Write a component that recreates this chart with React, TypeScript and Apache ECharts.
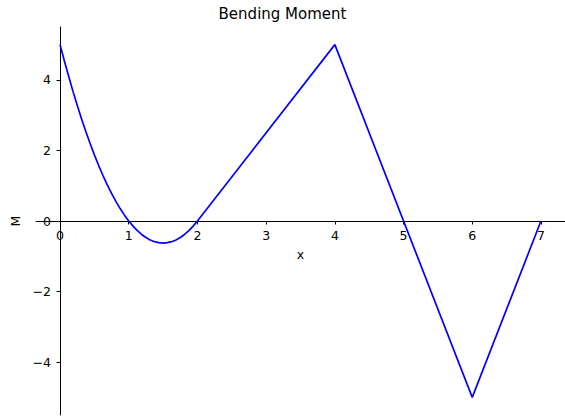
import React, { useEffect, useRef } from "react";
import * as echarts from "echarts";

// Bending moment along the beam: parabolic span 0–2, then straight segments.
const xValues = [
  0, 0.0625, 0.125, 0.1875, 0.25, 0.3125, 0.375, 0.4375, 0.5, 0.5625, 0.625,
  0.6875, 0.75, 0.8125, 0.875, 0.9375, 1, 1.0625, 1.125, 1.1875, 1.25, 1.3125,
  1.375, 1.4375, 1.5, 1.5625, 1.625, 1.6875, 1.75, 1.8125, 1.875, 1.9375, 2, 4,
  6, 7,
];
const mValues = [
  5, 4.541, 4.102, 3.682, 3.281, 2.9, 2.539, 2.197, 1.875, 1.572, 1.289, 1.025,
  0.781, 0.557, 0.352, 0.166, 0, -0.146, -0.273, -0.381, -0.469, -0.537, -0.586,
  -0.615, -0.625, -0.615, -0.586, -0.537, -0.469, -0.381, -0.273, -0.146, 0, 5,
  -5, 0,
];
const xTicks = [0, 1, 2, 3, 4, 5, 6, 7];
const yTicks = [-4, -2, 0, 2, 4];

const FONT = "DejaVu Sans";
const fmt = (v: number) => String(v).replace("-", "\u2212");

// plot box
const W = 565;
const H = 417;
const GL = 36;
const GR = 0;
const GT = 27;
const GB = 2;
const X_MIN = -0.35;
const X_MAX = 7.35;
const Y_MIN = -5.5;
const Y_MAX = 5.5;
// spines pass through the origin
const yAxisShift = ((0 - X_MIN) / (X_MAX - X_MIN)) * (W - GL - GR);
const xAxisShift = ((0 - Y_MIN) / (Y_MAX - Y_MIN)) * (H - GT - GB);

export default function App() {
  const ref = useRef<HTMLDivElement>(null);
  useEffect(() => {
    if (!ref.current) return;
    const chart = echarts.init(ref.current, null, { renderer: "svg" });
    chart.setOption({
      animation: false,
      backgroundColor: "#ffffff",
      title: {
        text: "Bending Moment",
        left: "center",
        top: 1.5,
        textStyle: { fontFamily: FONT, fontSize: 15, fontWeight: "normal", color: "#000" },
      },
      grid: { left: GL, right: GR, top: GT, bottom: GB, containLabel: false, outerBoundsMode: "none" },
      xAxis: {
        type: "value",
        min: X_MIN,
        max: X_MAX,
        offset: -xAxisShift,
        name: "x",
        nameLocation: "middle",
        nameGap: 27,
        nameTextStyle: { fontFamily: FONT, fontSize: 12.5, color: "#000" },
        axisLine: { onZero: false, lineStyle: { color: "#000", width: 1 } },
        axisTick: { show: true, customValues: xTicks, length: 3.5, lineStyle: { color: "#000" } },
        axisLabel: {
          customValues: xTicks,
          formatter: fmt,
          fontFamily: FONT,
          fontSize: 12.5,
          color: "#000",
          margin: 8,
        },
        splitLine: { show: false },
      },
      yAxis: {
        type: "value",
        min: Y_MIN,
        max: Y_MAX,
        offset: -yAxisShift,
        name: "M",
        nameLocation: "middle",
        nameGap: 35,
        nameRotate: 90,
        nameTextStyle: { fontFamily: FONT, fontSize: 12.5, color: "#000" },
        axisLine: { onZero: false, lineStyle: { color: "#000", width: 1 } },
        axisTick: { show: true, customValues: yTicks, length: 3.5, lineStyle: { color: "#000" } },
        axisLabel: {
          customValues: yTicks,
          formatter: fmt,
          fontFamily: FONT,
          fontSize: 12.5,
          color: "#000",
          margin: 9,
        },
        splitLine: { show: false },
      },
      series: [
        {
          type: "line",
          data: xValues.map((x, i) => [x, mValues[i]]),
          showSymbol: false,
          smooth: false,
          lineStyle: { color: "#0000ff", width: 1.7 },
        },
      ],
    });
    return () => chart.dispose();
  }, []);
  return <div ref={ref} style={{ width: W, height: H, position: "fixed", left: 0, top: 0 }} />;
}
